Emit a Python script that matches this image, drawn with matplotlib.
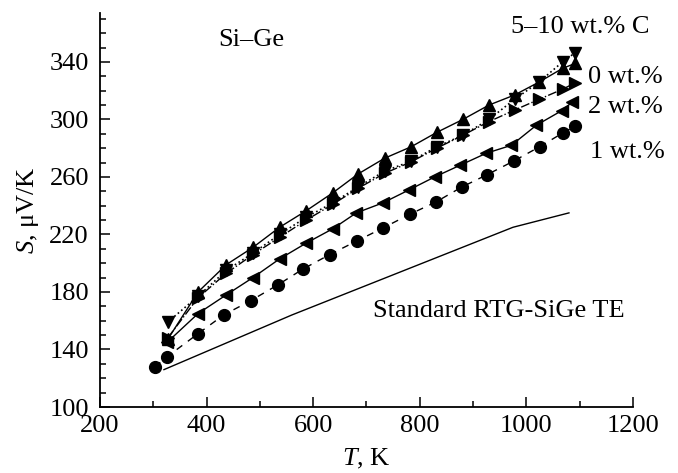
import matplotlib
matplotlib.use("Agg")
import matplotlib.pyplot as plt
from matplotlib.ticker import MultipleLocator

# Fonte tipo Times para todo o texto
plt.rcParams['font.family'] = ['Liberation Serif', 'DejaVu Serif']
plt.rcParams['mathtext.fontset'] = 'custom'
plt.rcParams['mathtext.rm'] = 'Liberation Serif'
plt.rcParams['mathtext.it'] = 'Liberation Serif:italic'

# Dados
t_1wt = [303, 326, 384, 432, 483, 534, 581, 631, 682, 731, 781, 830, 879, 926, 976, 1025, 1068, 1092]
s_1wt = [128, 135, 151, 164, 174, 185, 196, 206, 215.5, 224.5, 234, 242.5, 253, 261.5, 271, 281, 290.5, 295.5]

t_2wt = [326, 384, 437, 487, 537, 587, 637, 681, 731, 780, 828, 875, 925, 972, 1019, 1066, 1086]
s_2wt = [145, 165, 178, 190, 203, 214, 224, 235, 242, 251, 260, 268, 276.5, 282, 296, 306, 312]

t_alto = [327, 384, 437, 487, 537, 587, 637, 684, 734, 784, 832, 881, 930, 978, 1024, 1068, 1092]
s_up = [147, 180, 199, 211, 225, 236.5, 249, 262, 273, 281, 291, 300, 310, 317, 326, 335.5, 339]
s_down = [159, 177, 195, 207, 220, 232, 242, 253, 264, 271, 281, 289, 300, 314, 326, 340, 346.5]
s_0wt = [148, 176, 193, 206, 218, 230, 241, 252, 262.5, 270.5, 280, 289, 298.5, 306.5, 314, 321, 325.5]

t_std = [320, 560, 975, 1080]
s_std = [126, 164, 225, 235]

x_ticks = [200, 400, 600, 800, 1000, 1200]
y_ticks = [100, 140, 180, 220, 260, 300, 340]

fig = plt.figure(figsize=(6.78, 4.73), dpi=100)
ax = fig.add_axes([0.1475, 0.1395, 0.786, 0.833])

fs = 19
ms = 8.5

ax.plot(t_std, s_std, '-', color='black', lw=1)
ax.plot(t_1wt, s_1wt, '--', marker='o', color='black', lw=1, ms=ms, dashes=(5, 5))
ax.plot(t_2wt, s_2wt, '-', marker='<', color='black', lw=1, ms=ms)
ax.plot(t_alto, s_0wt, '-.', marker='>', color='black', lw=1, ms=ms)
ax.plot(t_alto, s_down, ':', marker='v', color='black', lw=1.2, ms=ms)
ax.plot(t_alto, s_up, '-', marker='^', color='black', lw=1, ms=ms)

ax.text(421, 355, 'Si–Ge', fontsize=fs, va='center', ha='left')
ax.text(1231, 364, '5–10 wt.% C', fontsize=fs, va='center', ha='right', clip_on=False)
ax.text(1115, 329.6, '0 wt.%', fontsize=fs, va='center', ha='left', clip_on=False)
ax.text(1115, 308.7, '2 wt.%', fontsize=fs, va='center', ha='left', clip_on=False)
ax.text(1119, 277.4, '1 wt.%', fontsize=fs, va='center', ha='left', clip_on=False)
ax.text(712, 166.8, 'Standard RTG-SiGe TE', fontsize=fs, va='center', ha='left')

ax.set_xlim(200, 1200)
ax.set_ylim(100, 374)
ax.set_xticks(x_ticks)
ax.set_yticks(y_ticks)
ax.xaxis.set_minor_locator(MultipleLocator(100))
ax.yaxis.set_minor_locator(MultipleLocator(10))

ax.spines['top'].set_visible(False)
ax.spines['right'].set_visible(False)
ax.spines['left'].set_linewidth(1.3)
ax.spines['bottom'].set_linewidth(1.3)
ax.tick_params(which='both', direction='in', labelsize=fs, width=1.1)
ax.tick_params(which='major', length=7)
ax.tick_params(which='minor', length=4.5)
ax.tick_params(axis='y', which='major', pad=8)
ax.tick_params(axis='x', which='major', pad=6)

ax.set_xlabel('$T$, K', fontsize=fs, labelpad=7)
ax.set_ylabel('$S$, μV/K', fontsize=fs, labelpad=6)

fig.savefig('out.png', dpi=100)
